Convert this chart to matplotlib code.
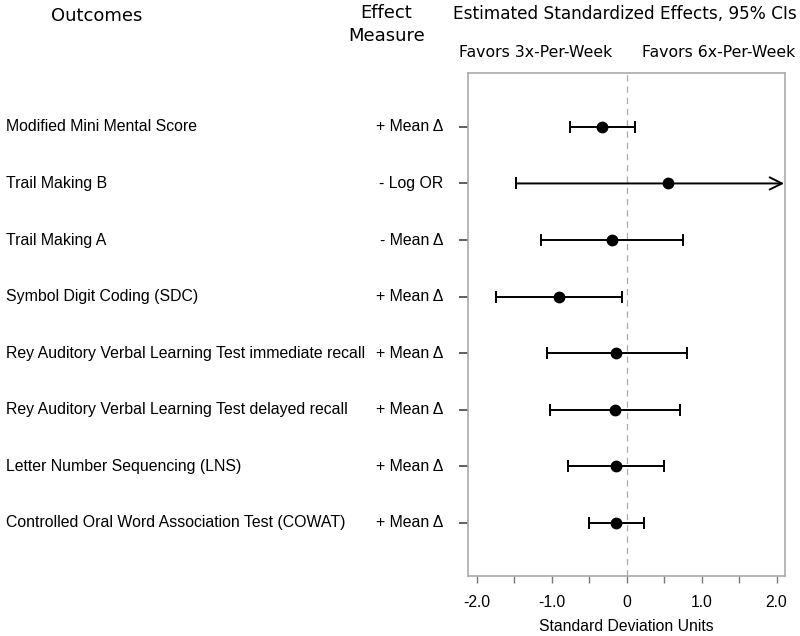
import matplotlib.pyplot as plt
import matplotlib.transforms as mtransforms

# outcomes, effect measures and estimated standardized effects with 95% CIs
outcomes = ['Modified Mini Mental Score',
            'Trail Making B',
            'Trail Making A',
            'Symbol Digit Coding (SDC)',
            'Rey Auditory Verbal Learning Test immediate recall',
            'Rey Auditory Verbal Learning Test delayed recall',
            'Letter Number Sequencing (LNS)',
            'Controlled Oral Word Association Test (COWAT)']
measures = ['+ Mean \u0394', '- Log OR', '- Mean \u0394', '+ Mean \u0394',
            '+ Mean \u0394', '+ Mean \u0394', '+ Mean \u0394', '+ Mean \u0394']
estimate = [-0.33, 0.55, -0.20, -0.91, -0.14, -0.16, -0.15, -0.15]
ci_low = [-0.76, -1.48, -1.14, -1.75, -1.07, -1.02, -0.78, -0.51]
ci_high = [0.11, 2.60, 0.75, -0.07, 0.80, 0.71, 0.50, 0.23]
xticks = [-2.0, -1.0, 0.0, 1.0, 2.0]
xtick_labels = ['-2.0', '-1.0', '0', '1.0', '2.0']

xmin, xmax = -2.12, 2.11
n = len(outcomes)
rows = list(range(n, 0, -1))

plt.rcParams['font.family'] = ['Liberation Sans', 'DejaVu Sans']
fig = plt.figure(figsize=(8, 6.36), dpi=100)
ax = fig.add_axes([0.585, 0.0943, 0.396, 0.7907])

ax.axvline(0, color='#aaaaaa', linestyle=(0, (5, 4)), linewidth=0.9, zorder=1)

for y, est, lo, hi in zip(rows, estimate, ci_low, ci_high):
    if hi > xmax:
        # interval runs off the right edge: cap on the left, arrow on the right
        ax.annotate('', xy=(xmax - 0.01, y), xytext=(lo, y),
                    arrowprops=dict(arrowstyle='->', color='black', lw=1.4,
                                    mutation_scale=22, shrinkA=0, shrinkB=0))
        ax.plot([lo], [y], marker='|', markersize=9, mew=1.4, color='black')
        ax.plot([est], [y], 'o', color='black', markersize=7.5, zorder=3)
    else:
        ax.errorbar([est], [y], xerr=[[est - lo], [hi - est]], fmt='o',
                    color='black', ecolor='black', elinewidth=1.4,
                    capsize=4.6, capthick=1.4, markersize=7.5, zorder=3)

ax.set_xlim(xmin, xmax)
ax.set_ylim(0.06, n + 0.95)
ax.set_xticks(xticks)
ax.set_xticklabels(xtick_labels, fontsize=11.3)
ax.set_xticks([-1.5, -0.5, 0.5, 1.5], minor=True)
ax.tick_params(axis='x', which='both', length=5, width=1, color='#777777', pad=9)
ax.set_yticks(rows)
ax.set_yticklabels([])
ax.tick_params(axis='y', length=6.5, width=1.2, color='#444444')
for sp in ax.spines.values():
    sp.set_color('#aaaaaa')
    sp.set_linewidth(1.2)
ax.set_xlabel('Standard Deviation Units', fontsize=11.3, labelpad=6)

# labels on the left, placed in figure x and data y
trans = mtransforms.blended_transform_factory(fig.transFigure, ax.transData)
for y, name, meas in zip(rows, outcomes, measures):
    ax.text(0.0075, y, name, transform=trans, ha='left', va='center',
            fontsize=11.4, clip_on=False)
    ax.text(0.554, y, meas, transform=trans, ha='right', va='center',
            fontsize=11.4, clip_on=False)

# headers
fig.text(0.121, 0.975, 'Outcomes', ha='center', va='center',
         fontsize=13, family='DejaVu Sans')
fig.text(0.483, 0.98, 'Effect', ha='center', va='center',
         fontsize=13, family='DejaVu Sans')
fig.text(0.483, 0.944, 'Measure', ha='center', va='center',
         fontsize=13, family='DejaVu Sans')
fig.text(0.781, 0.978, 'Estimated Standardized Effects, 95% CIs',
         ha='center', va='center', fontsize=12.2, family='DejaVu Sans')
fig.text(0.670, 0.917, 'Favors 3x-Per-Week', ha='center', va='center',
         fontsize=11.3, family='DejaVu Sans')
fig.text(0.898, 0.917, 'Favors 6x-Per-Week', ha='center', va='center',
         fontsize=11.3, family='DejaVu Sans')

fig.savefig('out.png', dpi=100)
